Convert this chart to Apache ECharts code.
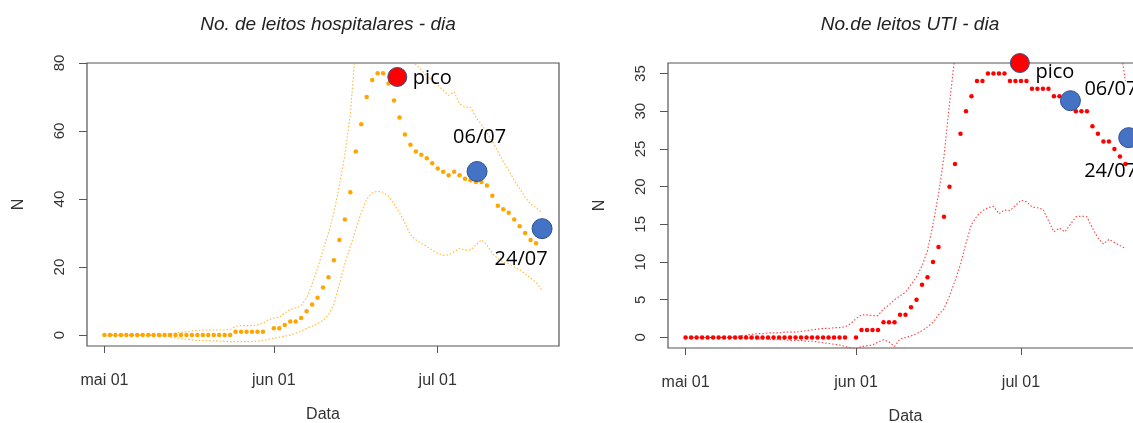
<!DOCTYPE html>
<html>
<head>
<meta charset="utf-8">
<script src="https://cdn.jsdelivr.net/npm/echarts@6/dist/echarts.min.js"></script>
<style>
html,body{margin:0;padding:0;background:#fff;}
#chart{width:1133px;height:423px;}
</style>
</head>
<body>
<div id="chart"></div>
<script>
// ---- DATA ----
// x values are day offsets from 2020-05-01 (day 0 = "mai 01")
const startDate = '2020-05-01';
const nDays = 81;
const tickDays = [0, 31, 61];
const tickLabels = ['mai 01', 'jun 01', 'jul 01'];

const titleLeitos = 'No. de leitos hospitalares - dia';
const titleUTI = 'No.de leitos UTI - dia';

const leitosTicks = [0, 20, 40, 60, 80];
const utiTicks = [0, 5, 10, 15, 20, 25, 30, 35];

// Hospital beds: point estimate (days 0..80)
const leitosN = [
  0,0,0,0,0,0,0,0,0,0, 0,0,0,0,0,0,0,0,0,0, 0,0,0,0,
  1,1,1,1,1,1, null,
  2,2,3,4,4,5,7,9,11,14,17,22,28,34,42,54,62,70,75,77,77,74,69,64,59,56,54,53,52,50.5,
  49,48,47,48,47,46,45.5,45,45,44,41,38,37,36,34,32,30,28,27,null
];
const leitosUpper = [
  0,0,0,0,0,0,0,0,0,0, 0,0.2,0.4,0.6,0.8,1,1.2,1.4,1.5,1.5, 1.5,1.5,1.5,1.6,2.6,2.8,2.8,2.8,3,3.5,
  4.5,5,5.2,6.5,7.5,8,8.6,11,15,19.5, 25,30,36,44,53,65,85,95,100,102,
  101,99,95,91,88,85,82,79.5,78,76, 75,73.5,72,70.5,71.5,68,67,67,64,62,
  59.5,57,54,51,48.5,45.5,43,40.5,38.5,37.5,36
];
const leitosLower = [
  0,0,0,0,0,0,0,0,0,0, -0.2,-0.4,-0.6,-0.8,-1,-1.2,-1.4,-1.6,-1.6,-1.6,
  -1.7,-1.7,-1.8,-1.9,-1.9,-1.9,-1.9,-1.9,-1.8,-1.6, -1.2,-0.9,-0.6,-0.3,0,0.5,1.2,2,2.6,3.4,
  4.3,6,9,15,21,26,31,36,40,41.8, 42.3,42,40.8,38.5,36,33,29.5,28,27,26,
  25,24,23.5,23.6,24.5,25.5,25,25,26.5,28, 26.5,24,22.5,21.5,21,20,19.2,18,16.8,15.5,13.4
];
// annotation markers: [day, value, label]
const leitosMarks = [[53.6, 75.9, 'pico'], [68.2, 48.1, '06/07'], [80.1, 31.3, '24/07']];

// ICU beds: point estimate (days 0..80)
const utiN = [
  0,0,0,0,0,0,0,0,0,0, 0,0,0,0,0,0,0,0,0,0, 0,0,0,0,0,0,0,0,0,0,
  null,0,1,1,1,1,2,2,2,3, 3,4,5,7,8,10,12,16,20,23, 27,30,32,34,34,35,35,35,35,34,
  34,34,34,33,33,33,33,32,32,31, 31,30,30,30,28,27,26,26,25,24,23
];
const utiUpper = [
  0,0,0,0,0,0,0,0,0,0.1, 0.2,0.3,0.4,0.5,0.5,0.6,0.6,0.6,0.7,0.7,
  0.7,0.8,0.9,1,1.1,1.2,1.2,1.3,1.3,1.4, 1.8,2.5,3,3,2.9,2.9,3.8,4.3,5,5.5,
  6,7,8,9.5,11.5,15,19,24,31,37.5, 42,45,47,48,49,50,50,50,50,50,
  50,50,50,50,50,50,50,50,50,50, 50,50,50,50,49,48,47,46,44,39,34
];
const utiLower = [
  0,0,0,0,0,0,0,0,0,0, 0,-0.1,-0.1,-0.2,-0.2,-0.2,-0.3,-0.3,-0.3,-0.4,
  -0.4,-0.4,-0.5,-0.5,-0.6,-0.7,-0.8,-0.9,-1,-1.2, -1.4,-1.5,-1.2,-1.1,-1,-0.6,-0.3,-0.6,-1.2,-0.2,
  0,0.2,0.5,0.9,1.4,2,3,3.8,5.5,7.5, 9.7,12.5,15,16.1,16.8,17.2,17.4,16.4,16.9,16.8,
  17.5,18.2,18,17.3,17.2,17,15.5,14,14.5,14, 15,16,16.1,16,14.5,13.2,12.4,13,12.6,12.2,11.8
];
const utiMarks = [[60.8, 36.4, 'pico'], [70.0, 31.4, '06/07'], [80.6, 26.5, '24/07']];

// ---- STYLE ----
const font = 'Liberation Sans, Arial, sans-serif';
const annFont = 'Open Sans, sans-serif';
const axisGray = '#555';
const markStyle = {
  leitos: { pico: {color:'#FF0000', offset:[35, 1]}, '06/07': {color:'#4472C4', offset:[2.5, -34]}, '24/07': {color:'#4472C4', offset:[-21, 31]} },
  uti:    { pico: {color:'#FF0000', offset:[35, 9]}, '06/07': {color:'#4472C4', offset:[40.5, -11]}, '24/07': {color:'#4472C4', offset:[-18, 34]} }
};

const days = Array.from({length: nDays}, (_, i) => i);
const pairs = arr => days.map(d => [d, arr[d]]);

function xAxisFor(gi) {
  return {
    type: 'value', gridIndex: gi, min: -3.2, max: 83.2, position: 'bottom',
    axisLine: {show: false, onZero: false}, splitLine: {show: false},
    axisTick: {show: true, inside: false, customValues: tickDays, length: 7, lineStyle: {color: axisGray, width: 1}},
    axisLabel: {customValues: tickDays, formatter: v => tickLabels[tickDays.indexOf(v)] || '',
      fontSize: 16, color: '#333', fontFamily: font, margin: 27},
    name: 'Data', nameLocation: 'middle', nameGap: 61,
    nameTextStyle: {fontSize: 16, color: '#333', fontFamily: font}
  };
}
function yAxisFor(gi, ticks, min, max) {
  return {
    type: 'value', gridIndex: gi, min: min, max: max, position: 'left',
    axisLine: {show: false, onZero: false}, splitLine: {show: false},
    axisTick: {show: true, inside: false, customValues: ticks, length: 8, lineStyle: {color: axisGray, width: 1}},
    axisLabel: {customValues: ticks, rotate: 90, fontSize: 15, color: '#333', fontFamily: font, margin: 20},
    name: 'N', nameLocation: 'middle', nameGap: 60, nameRotate: 90,
    nameTextStyle: {fontSize: 16, color: '#333', fontFamily: font}
  };
}
function seriesFor(gi, dots, upper, lower, marks, color, lineColor, mstyle) {
  const dotted = {type: 'line', xAxisIndex: gi, yAxisIndex: gi, showSymbol: false, symbol: 'none',
    lineStyle: {color: lineColor, width: 1.1, type: [1.5, 2]}, clip: true, silent: true, z: 2};
  return [
    Object.assign({}, dotted, {data: pairs(upper)}),
    Object.assign({}, dotted, {data: pairs(lower)}),
    {type: 'scatter', xAxisIndex: gi, yAxisIndex: gi, symbolSize: 4.5, data: pairs(dots).filter(p => p[1] !== null),
      itemStyle: {color: color, opacity: 1}, silent: true, z: 3},
    {type: 'scatter', xAxisIndex: gi, yAxisIndex: gi, clip: false, z: 5, silent: true,
      data: marks.map(m => ({
        value: [m[0], m[1]],
        symbolSize: m[2] === 'pico' ? 19 : 20,
        itemStyle: {color: mstyle[m[2]].color, borderColor: '#2F528F', borderWidth: 1, opacity: 1},
        label: {show: true, formatter: m[2], position: 'inside', offset: mstyle[m[2]].offset,
          fontSize: 20, fontFamily: annFont, color: '#000', opacity: 1}
      }))
    }
  ];
}

const chart = echarts.init(document.getElementById('chart'), null, {renderer: 'canvas'});
chart.setOption({
  backgroundColor: '#fff',
  animation: false,
  title: [
    {text: titleLeitos, left: 323, top: 10, textAlign: 'center',
      textStyle: {fontSize: 19, fontStyle: 'italic', fontWeight: 'normal', color: '#222', fontFamily: font}},
    {text: titleUTI, left: 905, top: 10, textAlign: 'center',
      textStyle: {fontSize: 19, fontStyle: 'italic', fontWeight: 'normal', color: '#222', fontFamily: font}}
  ],
  grid: [
    {left: 87, top: 63, width: 472, height: 283, show: true, borderColor: axisGray, borderWidth: 1.2,
      containLabel: false, outerBoundsMode: 'none'},
    {left: 668, top: 63, width: 475, height: 285, show: true, borderColor: axisGray, borderWidth: 1.2,
      containLabel: false, outerBoundsMode: 'none'}
  ],
  xAxis: [xAxisFor(0), xAxisFor(1)],
  yAxis: [yAxisFor(0, leitosTicks, -3.2, 80), yAxisFor(1, utiTicks, -1.4, 36.4)],
  series: [
    ...seriesFor(0, leitosN, leitosUpper, leitosLower, leitosMarks, '#FFA500', 'rgba(255,165,0,0.8)', markStyle.leitos),
    ...seriesFor(1, utiN, utiUpper, utiLower, utiMarks, '#FF0000', 'rgba(255,0,0,0.75)', markStyle.uti)
  ]
});
</script>
</body>
</html>
